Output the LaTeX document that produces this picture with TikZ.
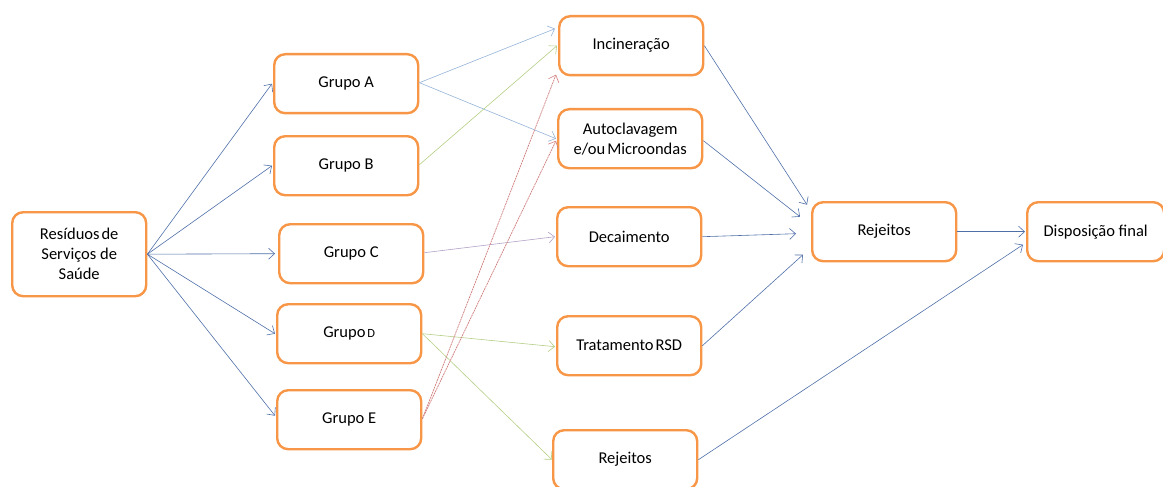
\documentclass[tikz,border=0pt]{standalone}
\usepackage{fontspec}
\setmainfont{Carlito}
\usetikzlibrary{arrows.meta}
\definecolor{boxorange}{HTML}{F79646}
\definecolor{darkblue}{HTML}{4F6FA8}
\definecolor{lightblue}{HTML}{95B3D7}
\definecolor{lightgreen}{HTML}{B5CF85}
\definecolor{lightpurple}{HTML}{B3A2C7}
\definecolor{lightred}{HTML}{D07E7C}
\newcommand{\tsp}{\hspace{0.12em}}
\tikzset{
  box/.style={draw=boxorange, line width=2.4pt, rounded corners=11pt, fill=white,
    minimum width=#1, minimum height=59pt, align=center, inner sep=2pt,
    font=\fontsize{16.5}{20}\selectfont, anchor=north west},
  box/.default=144pt,
  conn/.style={line width=0.6pt, -{Straight Barb[length=6pt,width=11pt,line width=0.6pt]}},
  redconn/.style={conn, lightred, dash pattern=on 2pt off 0.7pt, line width=0.7pt},
}
\begin{document}
\begin{tikzpicture}[x=1pt,y=-1pt]
\useasboundingbox (0,0) rectangle (1163,487);
\node[box=134pt, minimum height=84pt] (res) at (11,211) {Resíduos\tsp de\\Serviços de\\Saúde};
\node[box] (ga) at (273,53) {Grupo A};
\node[box] (gb) at (273,135) {Grupo B};
\node[box] (gc) at (278,223) {Grupo C};
\node[box] (gd) at (276,303) {Grupo\tsp{\fontsize{12.5}{14}\selectfont D}};
\node[box] (ge) at (276,389) {Grupo E};
\node[box] (inc) at (558,15) {Incineração};
\node[box] (aut) at (557,108) {Autoclavagem\\e/ou\tsp Microondas};
\node[box] (dec) at (556,206) {Decaimento};
\node[box] (tra) at (556,315) {Tratamento\tsp RSD};
\node[box] (rejb) at (552,429) {Rejeitos};
\node[box] (rej) at (811,201) {Rejeitos};
\node[box=137pt] (dis) at (1026,201) {Disposição final};

% from Resíduos
\draw[conn, darkblue] (res.east) -- ([xshift=-1pt]ga.west);
\draw[conn, darkblue] (res.east) -- ([xshift=-1pt]gb.west);
\draw[conn, darkblue] (res.east) -- ([xshift=-3pt]gc.west);
\draw[conn, darkblue] (res.east) -- ([xshift=-1pt]gd.west);
\draw[conn, darkblue] (res.east) -- ([xshift=-1pt,yshift=4pt]ge.west);
% groups to treatments
\draw[conn, lightblue] ([yshift=1pt]ga.east) -- ([xshift=-3pt,yshift=17pt]inc.west);
\draw[conn, lightblue] ([yshift=1pt]ga.east) -- ([xshift=-1pt]aut.west);
\draw[conn, lightgreen] ([yshift=1pt]gb.east) -- ([xshift=-1pt]inc.west);
\draw[conn, lightpurple] ([yshift=1pt]gc.east) -- ([xshift=-1pt]dec.west);
\draw[conn, lightgreen] (gd.east) -- ([xshift=-1pt,yshift=-1pt]tra.west);
\draw[conn, lightgreen] (gd.east) -- (rejb.west);
\draw[redconn] ([yshift=1pt]ge.east) -- ([xshift=-2pt,yshift=-29pt]inc.west);
\draw[redconn] ([yshift=1pt]ge.east) -- ([xshift=-1pt,yshift=-2pt]aut.west);
% to Rejeitos
\draw[conn, darkblue] (inc.east) -- ([xshift=-4pt,yshift=27pt]rej.west);
\draw[conn, darkblue] ([yshift=-2pt]aut.east) -- ([xshift=-11pt,yshift=15pt]rej.west);
\draw[conn, darkblue] (dec.east) -- ([xshift=-15pt,yshift=-2pt]rej.west);
\draw[conn, darkblue] (tra.east) -- ([xshift=-8pt,yshift=-23pt]rej.west);
% to Disposição
\draw[conn, darkblue] (rej.east) -- ([xshift=-1pt]dis.west);
\draw[conn, darkblue] (rejb.east) -- ([xshift=-3pt,yshift=-13pt]dis.west);
\end{tikzpicture}
\end{document}
